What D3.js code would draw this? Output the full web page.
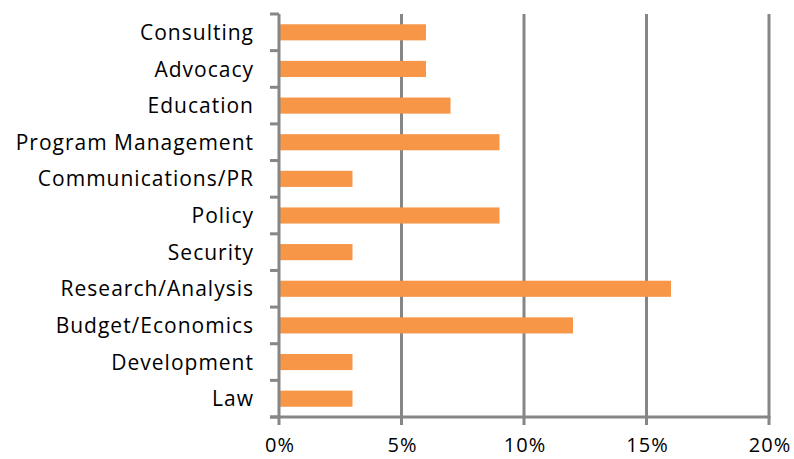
<!DOCTYPE html>
<html>
<head>
<meta charset="utf-8">
<script src="https://cdn.jsdelivr.net/npm/d3@7"></script>
<style>
  body { margin: 0; background: #fff; }
  text { font-family: "Open Sans", "Liberation Sans", sans-serif; fill: #000; }
</style>
</head>
<body>
<svg id="chart" width="794" height="459"></svg>
<script>
var categories = ['Consulting', 'Advocacy', 'Education', 'Program Management', 'Communications/PR',
                  'Policy', 'Security', 'Research/Analysis', 'Budget/Economics', 'Development', 'Law'];
var values = [6, 6, 7, 9, 3, 9, 3, 16, 12, 3, 3];
var ticks = [0, 5, 10, 15, 20];

// note: "top" is taken by window.top, so use plot* names
var plotLeft = 279, plotRight = 769, plotTop = 14, plotBottom = 417;
var grey = '#868686';

var svg = d3.select('#chart');

var x = d3.scaleLinear().domain([0, 20]).range([plotLeft, plotRight]);
var y = d3.scaleBand().domain(categories).range([plotTop, plotBottom]).paddingInner(0.56).paddingOuter(0.28);
var yEdge = d3.scaleLinear().domain([0, categories.length]).range([plotTop, plotBottom]);

// vertical gridlines
svg.selectAll('.grid')
    .data(ticks.slice(1))
    .enter()
    .append('line')
    .attr('x1', function (d) { return x(d); })
    .attr('x2', function (d) { return x(d); })
    .attr('y1', plotTop)
    .attr('y2', plotBottom + 8)
    .attr('stroke', grey)
    .attr('stroke-width', 3);

// bars
svg.selectAll('.bar')
    .data(values)
    .enter()
    .append('rect')
    .attr('x', x(0))
    .attr('y', function (d, i) { return y(categories[i]); })
    .attr('width', function (d) { return x(d) - x(0); })
    .attr('height', y.bandwidth())
    .attr('fill', '#F79646');

// left axis with tick marks between categories
svg.append('line')
    .attr('x1', plotLeft).attr('x2', plotLeft)
    .attr('y1', plotTop).attr('y2', plotBottom + 8)
    .attr('stroke', grey).attr('stroke-width', 3);

svg.selectAll('.ytick')
    .data(d3.range(categories.length + 1))
    .enter()
    .append('line')
    .attr('x1', plotLeft - 9).attr('x2', plotLeft)
    .attr('y1', function (d) { return yEdge(d); })
    .attr('y2', function (d) { return yEdge(d); })
    .attr('stroke', grey).attr('stroke-width', 3);

// bottom axis
svg.append('line')
    .attr('x1', plotLeft - 9).attr('x2', plotRight + 1.5)
    .attr('y1', plotBottom).attr('y2', plotBottom)
    .attr('stroke', grey).attr('stroke-width', 3);

// category labels
svg.selectAll('.cat')
    .data(categories)
    .enter()
    .append('text')
    .attr('x', 254)
    .attr('y', function (d) { return y(d) + y.bandwidth() / 2; })
    .attr('dy', '0.36em')
    .attr('text-anchor', 'end')
    .attr('font-size', 21)
    .attr('letter-spacing', 1)
    .text(function (d) { return d; });

// tick labels
svg.selectAll('.xlab')
    .data(ticks)
    .enter()
    .append('text')
    .attr('x', function (d) { return x(d) + 1; })
    .attr('y', 452)
    .attr('text-anchor', 'middle')
    .attr('font-size', 20)
    .attr('letter-spacing', 1)
    .text(function (d) { return d + '%'; });
</script>
</body>
</html>
